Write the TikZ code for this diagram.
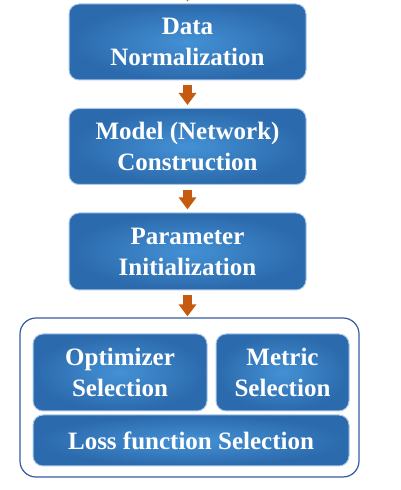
\documentclass[tikz,border=0pt]{standalone}
\usepackage{fontspec}
\setmainfont{Liberation Serif}
\usetikzlibrary{positioning, arrows.meta}
\definecolor{boxin}{RGB}{68,145,213}
\definecolor{boxout}{RGB}{43,106,172}
\definecolor{boxrim}{RGB}{172,200,232}
\definecolor{arrowc}{RGB}{197,90,17}
\definecolor{framec}{RGB}{52,90,160}
\tikzstyle{stage}=[draw=boxrim, line width=1pt, rounded corners=10pt, inner color=boxin, outer color=boxout, text=white, font=\fontsize{25}{31}\selectfont\bfseries, align=center, inner sep=0pt]
\tikzstyle{flow}=[line width=9pt, draw=arrowc, -{Triangle[length=12pt,width=17pt]}]

\begin{document}
\begin{tikzpicture}[x=1pt,y=1pt,node distance=104.5pt]
      \useasboundingbox (0,0) rectangle (401,490);
      \clip (0,0) rectangle (401,490);

      \node [stage, minimum width=237pt, minimum height=76pt] (norm) at (187.5,448) {Data\\Normalization};
      \node [stage, minimum width=237pt, minimum height=76pt] (model) [below of=norm] {Model (Network)\\Construction};
      \node [stage, minimum width=237pt, minimum height=77pt] (init) [below of=model, node distance=105pt] {Parameter\\Initialization};

      \node (setup) [draw=framec, line width=1.2pt, rounded corners=16pt, minimum width=339pt, minimum height=159pt] at (189.5,92.5) {};
      \node [stage, minimum width=174pt, minimum height=77pt] (opt) at (120,117.5) {Optimizer\\Selection};
      \node [stage, minimum width=133pt, minimum height=77pt] (metric) [right of=opt, node distance=162.5pt] {Metric\\Selection};
      \node [stage, minimum width=316pt, minimum height=51pt] (loss) at (191,49.5) {Loss function Selection};

      \coordinate (top) at (187.5,520);

      \draw [flow, shorten >=2pt] (top) -- (norm);
      \draw [flow, shorten <=5pt, shorten >=3pt] (norm) -- (model);
      \draw [flow, shorten <=5pt, shorten >=3pt] (model) -- (init);
      \draw [flow, shorten <=5pt, shorten >=1pt] (init.south) -- (init.south |- setup.north);
\end{tikzpicture}
\end{document}
